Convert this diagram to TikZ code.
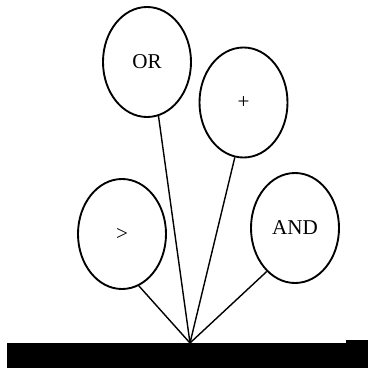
\documentclass[tikz,border=0pt]{standalone}
\usepackage{fontspec}
\setmainfont{Liberation Serif}
\usetikzlibrary{shapes.geometric}

\begin{document}
\begin{tikzpicture}[
    x=0.03cm, y=-0.03cm,
    font=\fontsize{18}{20}\selectfont,
    balloon/.style={draw=black, ellipse, line width=1.6pt, minimum width=2.64cm, minimum height=3.3cm, inner sep=0pt},
    cord/.style={draw=black, line width=1.2pt}
]
    \useasboundingbox (0, 0) rectangle (368, 368);

    \node [balloon] (OR) at (147, 62) {OR};
    \node [balloon] (PLUS) at (243.5, 102.5) {+};
    \node [balloon] (GT) at (122, 234) {>};
    \node [balloon] (AND) at (295, 228) {AND};

    % ground bar
    \fill [black] (7, 343) rectangle (368, 368);
    \fill [black] (346, 340) rectangle (368, 343);
    \coordinate (base) at (190, 343);

    \draw [cord] (OR.-78) -- (base);
    \draw [cord] (PLUS.-99) -- (base);
    \draw [cord] (GT.-72) -- (base);
    \draw [cord] (AND.-123) -- (base);

\end{tikzpicture}
\end{document}
